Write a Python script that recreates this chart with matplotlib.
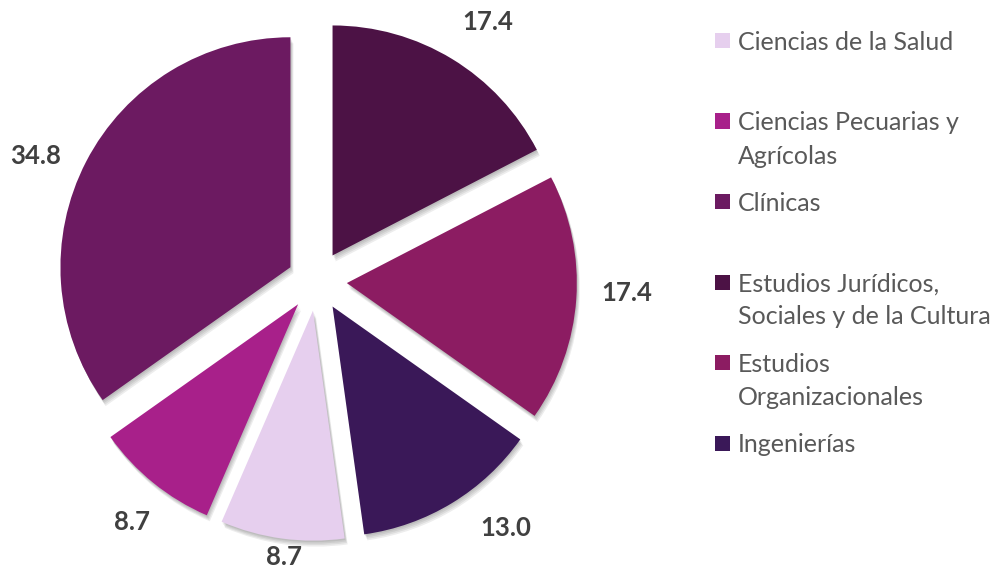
import numpy as np
import matplotlib
matplotlib.use("Agg")
import matplotlib.pyplot as plt
from matplotlib.patches import Rectangle, Wedge

# datos (orden de la leyenda)
categorias = [
    "Ciencias de la Salud",
    "Ciencias Pecuarias y\nAgrícolas",
    "Clínicas",
    "Estudios Jurídicos,\nSociales y de la Cultura",
    "Estudios\nOrganizacionales",
    "Ingenierías",
]
valores = [8.7, 8.7, 34.8, 17.4, 17.4, 13.0]
etiquetas = ["8.7", "8.7", "34.8", "17.4", "17.4", "13.0"]
colores = ["#E6CFEE", "#A8208A", "#6C1A61", "#4C1245", "#8C1C62", "#3A1858"]

# ajustes de posición de las etiquetas (distancia al centro, giro en grados)
dist_etiq = [1.21, 1.32, 1.34, 1.35, 1.35, 1.35]
giro_etiq = [0.9, 1.6, 3.4, -2.0, 1.7, 6.1]

W, H = 998, 571
fig = plt.figure(figsize=(W / 100, H / 100), dpi=100)
fig.patch.set_facecolor("white")

# ejes que cubren toda la figura, escala 1 unidad = 230 px
cx, cy, r = 317, 281, 230
ax = fig.add_axes([0, 0, 1, 1])

# el sector "Estudios Jurídicos" empieza en las 12
inicio = 90 + 360 * sum(valores[:3]) / sum(valores)
wedges, _ = ax.pie(valores, colors=colores, startangle=inicio, counterclock=False,
                   explode=[0.13] * len(valores), radius=1.0,
                   wedgeprops=dict(linewidth=0, zorder=3))

# sombra suave hacia abajo a la derecha
for w in wedges:
    for k in range(1, 5):
        off = k * 1.5 / r
        ax.add_patch(Wedge((w.center[0] + off * 0.5, w.center[1] - off), w.r,
                           w.theta1, w.theta2, facecolor="black",
                           alpha=0.07, linewidth=0, zorder=2))

for w, txt, d, g in zip(wedges, etiquetas, dist_etiq, giro_etiq):
    th = np.deg2rad((w.theta1 + w.theta2) / 2 + g)
    ax.text(d * np.cos(th), d * np.sin(th), txt, ha="center", va="center",
            fontsize=18.5, fontweight="bold", color="#404040", family="Lato")

ax.set_xlim(-cx / r, (W - cx) / r)
ax.set_ylim(-(H - cy) / r, cy / r)
ax.set_aspect("auto")
ax.axis("off")

# leyenda dibujada a mano (primer renglón de cada entrada cada 80.5 px)
for i, (cat, col) in enumerate(zip(categorias, colores)):
    base = 50 + 80.5 * i
    fig.patches.append(Rectangle((715 / W, 1 - (base - 2) / H), 15 / W, 15 / H,
                                 transform=fig.transFigure, facecolor=col,
                                 edgecolor="none"))
    for k, linea in enumerate(cat.split("\n")):
        fig.text(738 / W, 1 - (base + 33 * k) / H, linea, ha="left",
                 va="baseline", fontsize=18, color="#595959", family="Lato")

fig.savefig("out.png", dpi=100)
